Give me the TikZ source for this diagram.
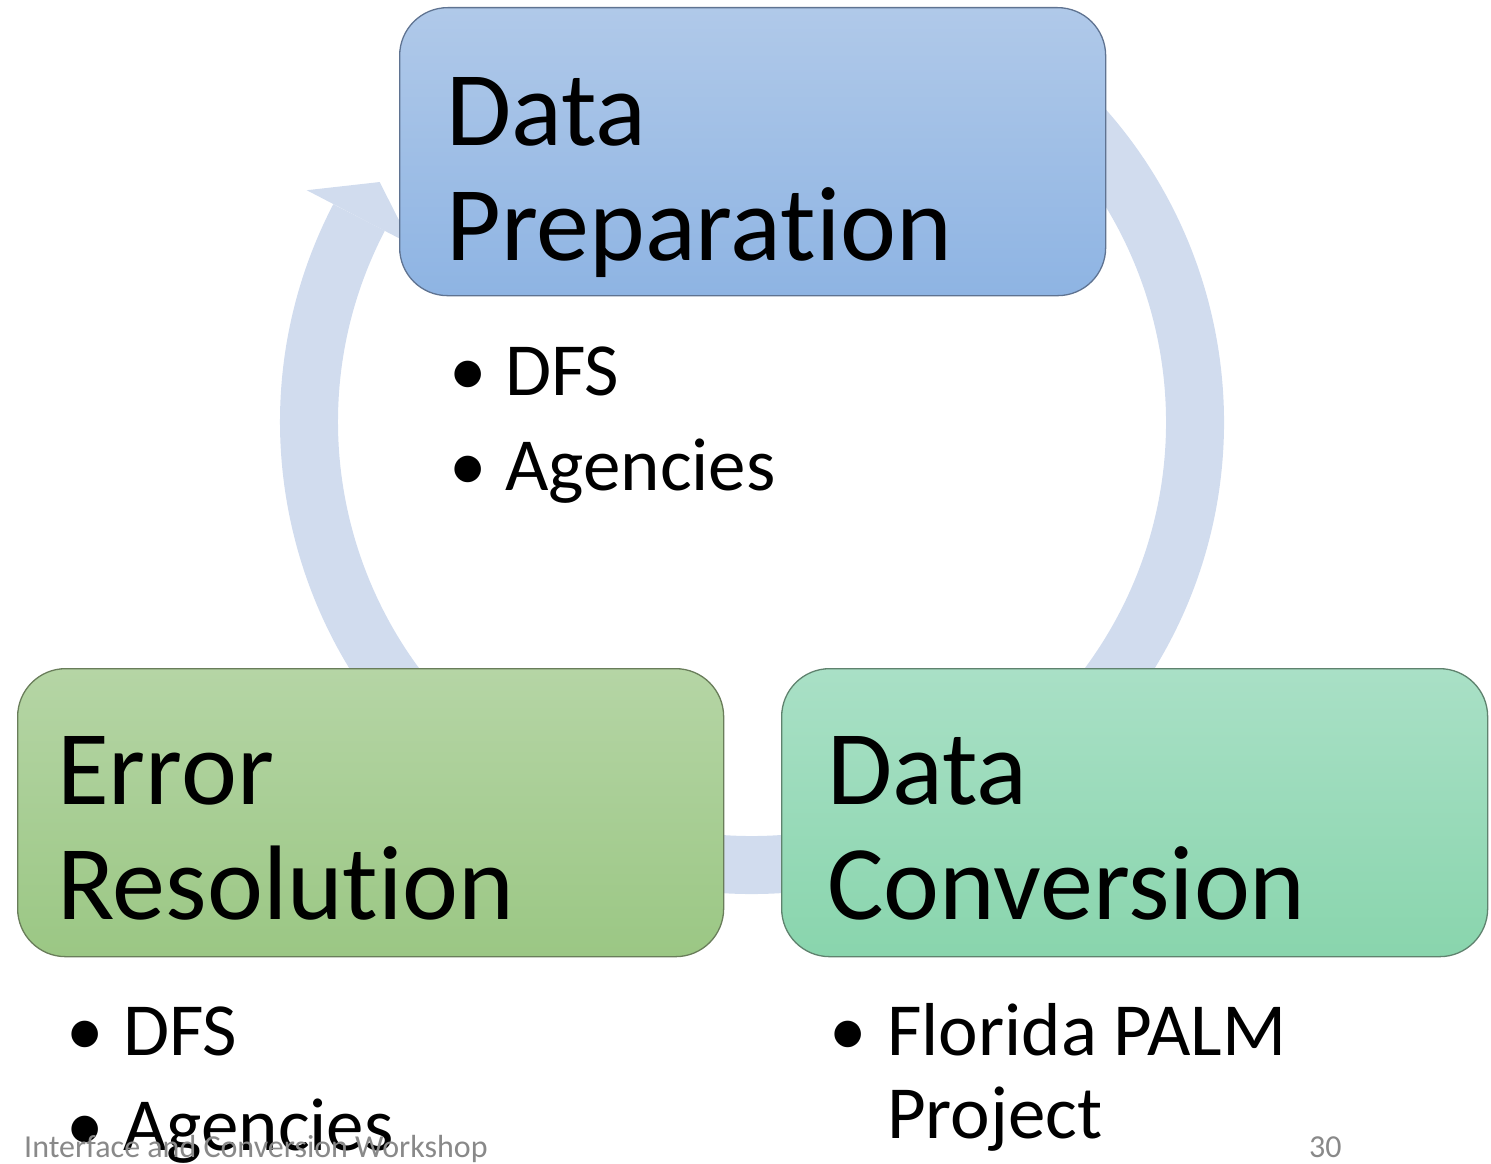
\documentclass[tikz,border=0pt]{standalone}
\usepackage{fontspec}
\setmainfont{Carlito}[Ligatures={NoCommon}]
\definecolor{ringc}{RGB}{209,220,238}
\definecolor{ptop}{RGB}{176,201,233}
\definecolor{pbot}{RGB}{142,180,227}
\definecolor{pdraw}{RGB}{95,115,145}
\definecolor{etop}{RGB}{181,213,165}
\definecolor{ebot}{RGB}{155,199,132}
\definecolor{edraw}{RGB}{105,125,90}
\definecolor{ctop}{RGB}{169,224,198}
\definecolor{cbot}{RGB}{137,213,173}
\definecolor{cdraw}{RGB}{95,130,110}
\definecolor{ftgray}{RGB}{137,137,137}
\begin{document}
\begin{tikzpicture}[x=1pt,y=-1pt,
  box/.style={rectangle,rounded corners=48pt,line width=1.3pt,minimum width=706pt,minimum height=288pt,anchor=north west,inner sep=0pt},
  ttl/.style={anchor=base west,inner sep=0pt,font=\fontsize{106}{115}\selectfont},
  itm/.style={anchor=base west,inner sep=0pt,font=\fontsize{75}{83}\selectfont},
  ftr/.style={anchor=base west,inner sep=0pt,font=\fontsize{32}{38}\selectfont,text=ftgray}]
\useasboundingbox (0,0) rectangle (1491,1164);
\coordinate (c) at (752,422);
\begin{scope}
\clip (0,0) rectangle (1491,1164);
\draw[ringc,line width=58pt] (c) ++(-55:443) arc[start angle=55,end angle=-207.5,radius=443pt];
\begin{scope}[shift={(752,422)}]
\fill[ringc] (567.5:502) -- (572.8:443) -- (567.5:384) -- cycle;
\end{scope}
\end{scope}
% boxes
\node[box,top color=ptop,bottom color=pbot,draw=pdraw] (prep) at (399,7) {};
\node[box,top color=etop,bottom color=ebot,draw=edraw] (err) at (17,668) {};
\node[box,top color=ctop,bottom color=cbot,draw=cdraw] (conv) at (781,668) {};
% titles
\node[ttl] (prep1) at (446,145) {Data};
\node[ttl] (prep2) at (446,260) {Preparation};
\node[ttl] (err1) at (57,804) {Error};
\node[ttl] (err2) at (57,919) {Resolution};
\node[ttl] (conv1) at (827,804) {Data};
\node[ttl] (conv2) at (827,919) {Conversion};
% bullets
\node[itm] (b1) at (449,395) {•};
\node[itm] (t1) at (505,395) {DFS};
\node[itm] (b2) at (449,490) {•};
\node[itm] (t2) at (505,490) {Agencies};
\node[itm] (b3) at (66,1055) {•};
\node[itm] (t3) at (123,1055) {DFS};
\node[itm] (b4) at (66,1150) {•};
\node[itm] (t4) at (123,1150) {Agencies};
\node[itm] (b5) at (829,1055) {•};
\node[itm] (t5) at (887,1055) {Florida PALM};
\node[itm] (t6) at (887,1138) {Project};
% footer
\node[ftr] (foot) at (24,1157) {Interface and Conversion Workshop};
\node[ftr] (num) at (1309,1157) {30};
\end{tikzpicture}
\end{document}
